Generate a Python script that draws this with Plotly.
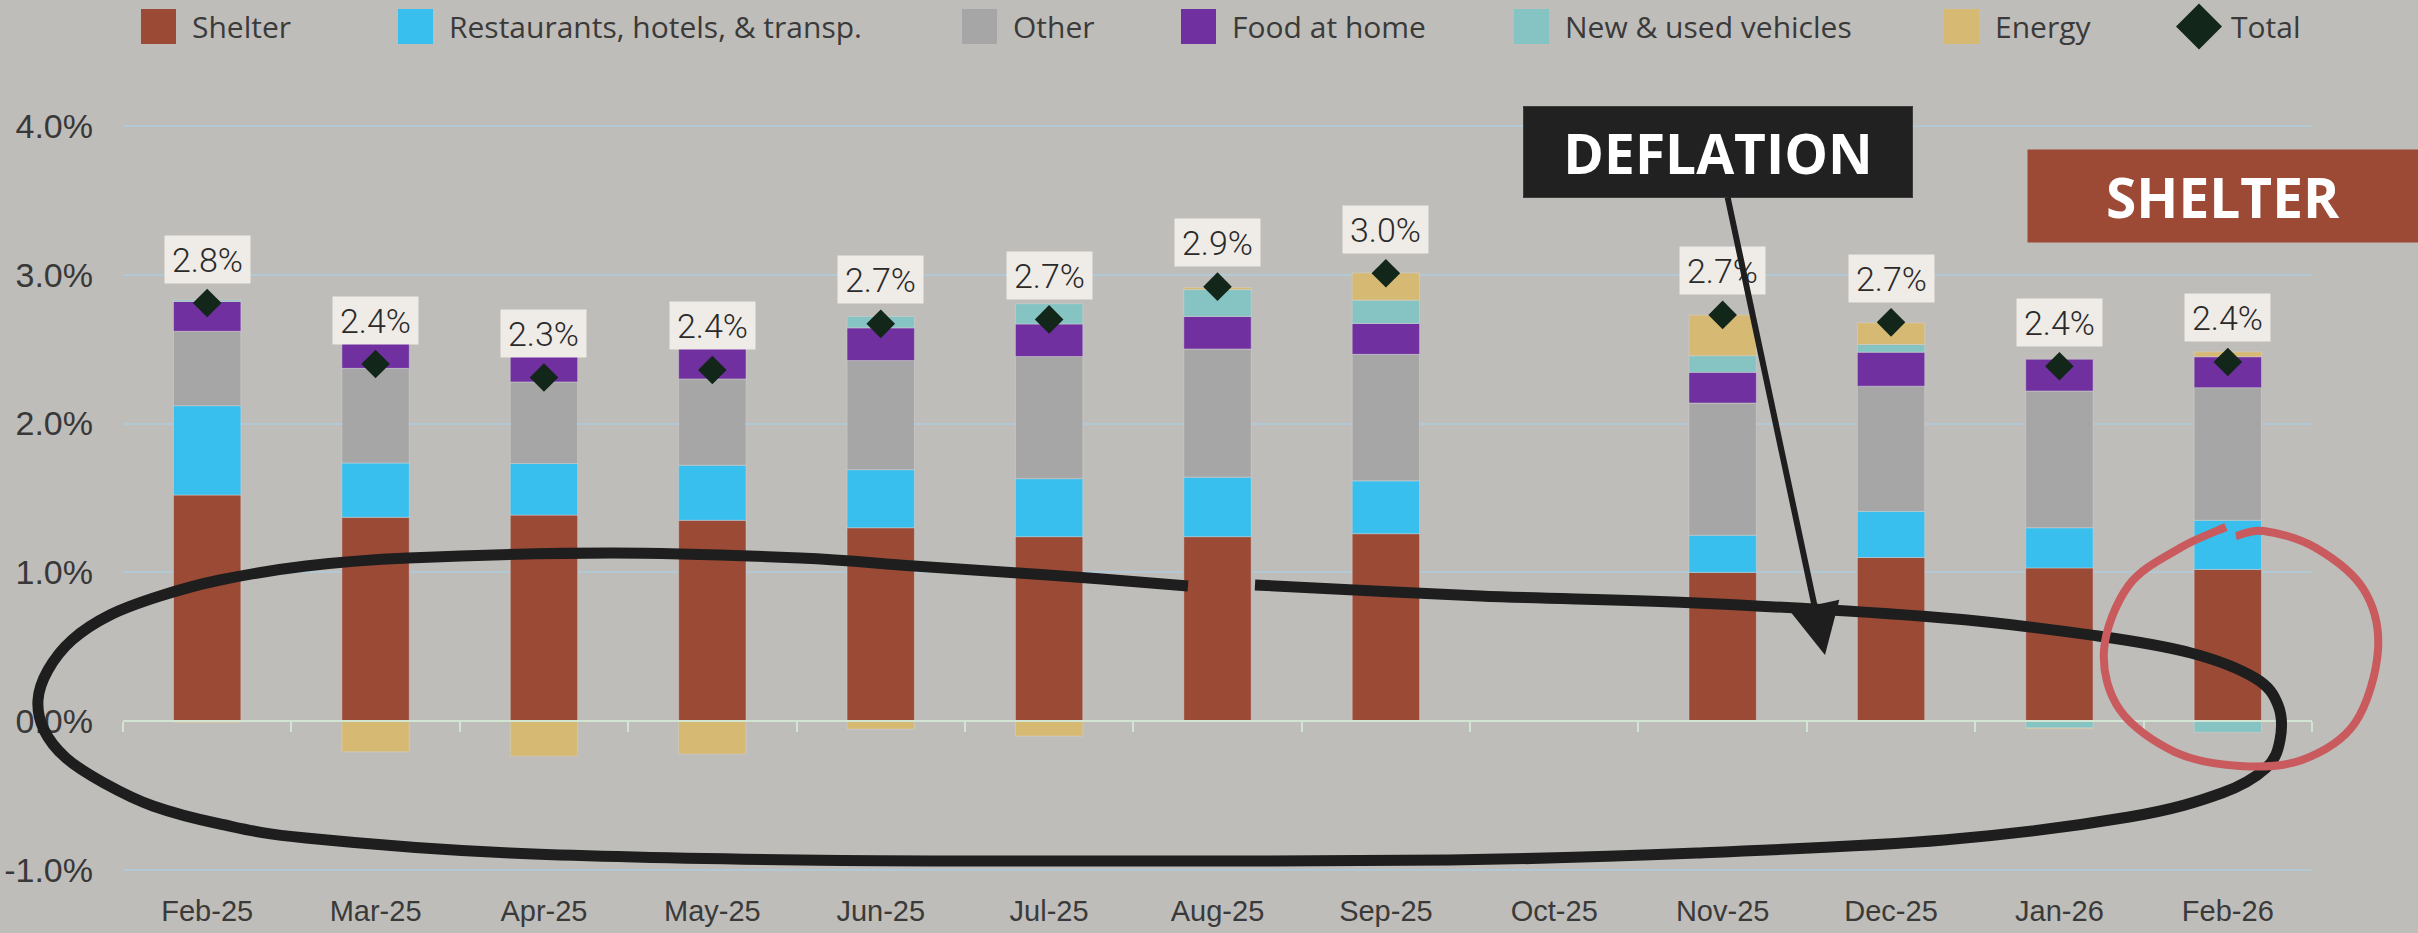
import plotly.graph_objects as go

# ---------------- data ----------------
categories = ["Feb-25", "Mar-25", "Apr-25", "May-25", "Jun-25", "Jul-25", "Aug-25",
              "Sep-25", "Oct-25", "Nov-25", "Dec-25", "Jan-26", "Feb-26"]

shelter      = [1.52, 1.37, 1.385, 1.35, 1.30, 1.24, 1.24, 1.26, None, 1.00, 1.10, 1.03, 1.02]
restaurants  = [0.60, 0.365, 0.347, 0.37, 0.39, 0.39, 0.40, 0.355, None, 0.25, 0.31, 0.27, 0.33]
other        = [0.50, 0.636, 0.548, 0.58, 0.734, 0.82, 0.861, 0.85, None, 0.888, 0.841, 0.919, 0.891]
food_at_home = [0.20, 0.21, 0.217, 0.211, 0.219, 0.219, 0.219, 0.208, None, 0.206, 0.229, 0.213, 0.208]
vehicles     = [0.01, 0.03, 0.027, 0.065, 0.076, 0.136, 0.18, 0.156, None, 0.112, 0.051, -0.045, -0.074]
energy       = [-0.01, -0.206, -0.235, -0.221, -0.053, -0.10, 0.014, 0.183, None, 0.273, 0.146, -0.005, 0.033]
total        = [2.81, 2.40, 2.31, 2.36, 2.67, 2.70, 2.92, 3.01, None, 2.73, 2.68, 2.385, 2.414]

series_names = ["Shelter", "Restaurants, hotels, & transp.", "Other", "Food at home",
                "New & used vehicles", "Energy"]
series_values = [shelter, restaurants, other, food_at_home, vehicles, energy]
series_colors = ["#9b4a36", "#39bfed", "#a6a6a6", "#7030a0", "#86c3c3", "#d6b973"]
total_color = "#13261a"

y_tickvals = [-1, 0, 1, 2, 3, 4]
y_ticktext = ["-1.0%", "0.0%", "1.0%", "2.0%", "3.0%", "4.0%"]

# ---------------- layout geometry ----------------
W, H = 2418, 933
ML, MR, MT, MB = 123, 106, 53, 60
Y_RANGE = [-1.02, 4.49]
BG = "#bfbdb9"
GRID = "#b3c8d5"
AXIS = "#d2e5d2"


def to_paper(px, py):
    return ((px - ML) / (W - ML - MR), (H - MB - py) / (H - MT - MB))


def smooth_path(points):
    pts = [to_paper(x, y) for x, y in points]
    d = "M {:.5f},{:.5f}".format(*pts[0])
    n = len(pts)
    for i in range(n - 1):
        p0 = pts[i - 1] if i > 0 else pts[i]
        p1 = pts[i]
        p2 = pts[i + 1]
        p3 = pts[i + 2] if i + 2 < n else pts[i + 1]
        c1 = (p1[0] + (p2[0] - p0[0]) / 6, p1[1] + (p2[1] - p0[1]) / 6)
        c2 = (p2[0] - (p3[0] - p1[0]) / 6, p2[1] - (p3[1] - p1[1]) / 6)
        d += " C {:.5f},{:.5f} {:.5f},{:.5f} {:.5f},{:.5f}".format(*c1, *c2, *p2)
    return d


fig = go.Figure()

for name, vals, col in zip(series_names, series_values, series_colors):
    fig.add_trace(go.Bar(
        x=categories, y=vals, name=name,
        marker=dict(color=col, line=dict(color="rgba(215,215,215,0.45)", width=1)),
        showlegend=False, hoverinfo="skip",
    ))

fig.add_trace(go.Scatter(
    x=categories, y=total, name="Total", mode="markers",
    marker=dict(symbol="diamond", size=22, color=total_color, line=dict(width=0)),
    showlegend=False, hoverinfo="skip",
))

# invisible trace carrying the zero-line axis with boundary ticks
fig.add_trace(go.Scatter(
    x=categories, y=[0] * len(categories), xaxis="x2", mode="markers",
    marker=dict(opacity=0), showlegend=False, hoverinfo="skip",
))

# value labels above the totals
annotations = []
for c, v in zip(categories, total):
    if v is None:
        continue
    annotations.append(dict(
        x=c, y=v, xref="x", yref="y", text=f"{v:.1f}%", showarrow=False,
        xanchor="center", yanchor="middle",
        yshift=44, bgcolor="#efebe6", borderpad=6, width=73, height=35,
        font=dict(family="Roboto", size=34, color="#2a2a2a", weight=300),
    ))

# custom legend
legend_x = [141, 398, 962, 1181, 1514, 1944]
legend_font = dict(family="Open Sans", size=30, color="#3a3a3a", weight=500)
shapes = []
for lx, name, col in zip(legend_x, series_names, series_colors):
    x0, y0 = to_paper(lx, 9)
    x1, y1 = to_paper(lx + 35, 44)
    shapes.append(dict(type="rect", xref="paper", yref="paper", x0=x0, x1=x1,
                       y0=y1, y1=y0, fillcolor=col, line=dict(width=0)))
    tx, ty = to_paper(lx + 49, 26.5)
    annotations.append(dict(x=tx, y=ty, xref="paper", yref="paper", text=name,
                            showarrow=False, xanchor="left", yanchor="middle",
                            font=legend_font))
cx, cy, r = 2199, 26.5, 23
dpts = [to_paper(cx, cy - r), to_paper(cx + r, cy), to_paper(cx, cy + r), to_paper(cx - r, cy)]
shapes.append(dict(type="path", xref="paper", yref="paper",
                   path="M {} {} L {} {} L {} {} L {} {} Z".format(*[c for p in dpts for c in p]),
                   fillcolor=total_color, line=dict(width=0)))
tx, ty = to_paper(2229, 26.5)
annotations.append(dict(x=tx, y=ty, xref="paper", yref="paper", text="Total",
                        showarrow=False, xanchor="left", yanchor="middle",
                        font=legend_font))

# hand-drawn black loop
black_loop = [(1188, 586), (1048, 575), (914, 566), (800, 558), (612, 553), (408, 558),
              (306, 566), (220, 580), (160, 596), (110, 615), (72, 640), (48, 670),
              (38, 700), (44, 730), (66, 758), (104, 783), (153, 806), (220, 824),
              (306, 838), (510, 853), (800, 860), (1100, 861),
              (1450, 860), (1697, 853), (1944, 840), (2129, 817), (2222, 793),
              (2266, 768), (2280, 740), (2278, 705), (2255, 678), (2191, 653),
              (2098, 636), (1944, 618), (1697, 603), (1480, 596), (1255, 585)]
shapes.append(dict(type="path", xref="paper", yref="paper", path=smooth_path(black_loop),
                   line=dict(color="#1e1e1e", width=11)))

# red circle around the last shelter bar
red_loop = [(2226, 527), (2180, 548), (2129, 585), (2104, 650), (2120, 710), (2175, 752),
            (2240, 766), (2302, 760), (2355, 723), (2378, 650), (2364, 590), (2316, 548),
            (2264, 531), (2236, 536)]
shapes.append(dict(type="path", xref="paper", yref="paper", path=smooth_path(red_loop),
                   line=dict(color="#c95a5d", width=8)))

# DEFLATION call-out with arrow
tipx, tipy = to_paper(1825, 655)
annotations.append(dict(
    x=tipx, y=tipy, xref="paper", yref="paper", text="DEFLATION",
    showarrow=True, ax=1718 - 1825, ay=152 - 655, axref="pixel", ayref="pixel",
    arrowhead=2, arrowsize=1.7, arrowwidth=6, arrowcolor="#1e1e1e",
    bgcolor="#212121", bordercolor="#3d3d3d", borderwidth=1, borderpad=4,
    width=380, height=82,
    font=dict(family="Open Sans", size=55, color="white", weight=700),
))

# SHELTER tag
sx, sy = to_paper(2223, 196)
annotations.append(dict(
    x=sx, y=sy, xref="paper", yref="paper", text="SHELTER", showarrow=False,
    xanchor="center", yanchor="middle",
    bgcolor="#9c4a35", borderpad=5, width=380, height=82,
    font=dict(family="Open Sans", size=55, color="white", weight=700),
))

zero_pos = (0 - Y_RANGE[0]) / (Y_RANGE[1] - Y_RANGE[0])

fig.update_layout(
    width=W, height=H,
    margin=dict(l=ML, r=MR, t=MT, b=MB, pad=0, autoexpand=False),
    paper_bgcolor=BG, plot_bgcolor=BG,
    barmode="relative", bargap=0.6,
    showlegend=False,
    xaxis=dict(type="category", categoryorder="array", categoryarray=categories,
               range=[-0.5, len(categories) - 0.5], showline=False, showgrid=False,
               ticks="", ticklabelstandoff=18, automargin=False,
               tickfont=dict(family="Liberation Sans, Arial", size=29, color="#3a3a3a")),
    xaxis2=dict(type="category", categoryorder="array", categoryarray=categories,
                range=[-0.5, len(categories) - 0.5], overlaying="x", anchor="free",
                position=zero_pos, side="bottom", showgrid=False, showticklabels=False,
                showline=True, linecolor=AXIS, linewidth=2, tickson="boundaries",
                ticks="outside", ticklen=10, tickwidth=2, tickcolor=AXIS, automargin=False),
    yaxis=dict(range=Y_RANGE, tickmode="array", tickvals=y_tickvals, ticktext=y_ticktext,
               showgrid=True, gridcolor=GRID, gridwidth=2, zeroline=False,
               ticks="", ticklabelstandoff=29, automargin=False,
               tickfont=dict(family="Liberation Sans, Arial", size=34, color="#383838")),
    shapes=shapes,
    annotations=annotations,
)

fig.write_html(
    "out.html",
    config={"displayModeBar": False},
    post_script="document.body.style.margin='0';document.body.style.padding='0';"
                "document.body.style.overflow='hidden';"
                "document.body.style.background='" + BG + "';",
)
